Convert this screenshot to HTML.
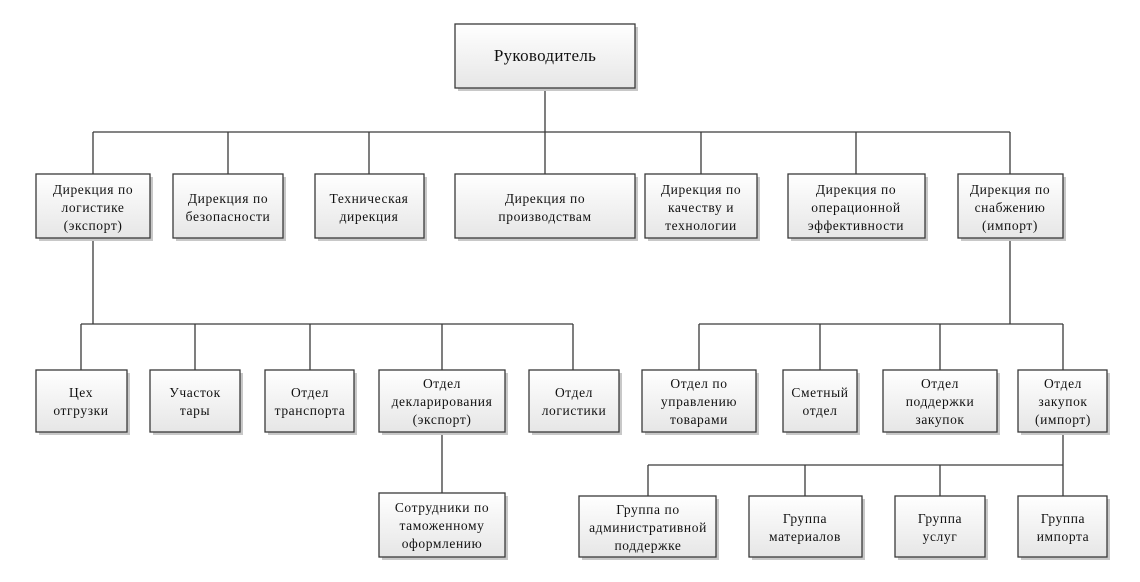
<!DOCTYPE html>
<html><head><meta charset="utf-8"><style>
html,body{margin:0;padding:0;background:#fff;}
svg{display:block;}
text{font-family:"Liberation Serif",serif;font-size:13.5px;fill:#111;text-anchor:middle;letter-spacing:0.6px;}
</style></head><body>
<svg width="1140" height="582" viewBox="0 0 1140 582" xmlns="http://www.w3.org/2000/svg">
<defs>
<linearGradient id="g" x1="0" y1="0" x2="0" y2="1">
<stop offset="0" stop-color="#ffffff"/><stop offset="1" stop-color="#e6e6e6"/>
</linearGradient>
</defs>
<g stroke="#3a3a3a" stroke-width="1.3" fill="none">
<path d="M545 88V132M93 132H1010M93 132V174M228 132V174M369 132V174M545 132V174M701 132V174M856 132V174M1010 132V174"/>
<path d="M93 238V324M81 324H573M81 324V370M195 324V370M310 324V370M442 324V370M573 324V370M442 432V493"/>
<path d="M1010 238V324M699 324H1063M699 324V370M820 324V370M940 324V370M1063 324V370"/>
<path d="M1063 432V465M648 465H1063M648 465V496M805 465V496M940 465V496M1063 465V496"/>
</g>
<g id="boxes">
<!-- shadow + box helper: drawn individually -->
</g>
<g fill="#c8c8c8">
<rect x="458" y="27" width="180" height="64"/>
<rect x="39" y="177" width="114" height="64"/><rect x="176" y="177" width="110" height="64"/><rect x="318" y="177" width="109" height="64"/><rect x="458" y="177" width="180" height="64"/><rect x="648" y="177" width="112" height="64"/><rect x="791" y="177" width="137" height="64"/><rect x="961" y="177" width="105" height="64"/>
<rect x="39" y="373" width="91" height="62"/><rect x="153" y="373" width="90" height="62"/><rect x="268" y="373" width="89" height="62"/><rect x="382" y="373" width="126" height="62"/><rect x="532" y="373" width="90" height="62"/>
<rect x="645" y="373" width="114" height="62"/><rect x="786" y="373" width="74" height="62"/><rect x="886" y="373" width="114" height="62"/><rect x="1021" y="373" width="89" height="62"/>
<rect x="382" y="496" width="126" height="64"/>
<rect x="582" y="499" width="137" height="61"/><rect x="752" y="499" width="113" height="61"/><rect x="898" y="499" width="90" height="61"/><rect x="1021" y="499" width="89" height="61"/>
</g>
<g fill="url(#g)" stroke="#3a3a3a" stroke-width="1.3">
<rect x="455" y="24" width="180" height="64"/>
<rect x="36" y="174" width="114" height="64"/><rect x="173" y="174" width="110" height="64"/><rect x="315" y="174" width="109" height="64"/><rect x="455" y="174" width="180" height="64"/><rect x="645" y="174" width="112" height="64"/><rect x="788" y="174" width="137" height="64"/><rect x="958" y="174" width="105" height="64"/>
<rect x="36" y="370" width="91" height="62"/><rect x="150" y="370" width="90" height="62"/><rect x="265" y="370" width="89" height="62"/><rect x="379" y="370" width="126" height="62"/><rect x="529" y="370" width="90" height="62"/>
<rect x="642" y="370" width="114" height="62"/><rect x="783" y="370" width="74" height="62"/><rect x="883" y="370" width="114" height="62"/><rect x="1018" y="370" width="89" height="62"/>
<rect x="379" y="493" width="126" height="64"/>
<rect x="579" y="496" width="137" height="61"/><rect x="749" y="496" width="113" height="61"/><rect x="895" y="496" width="90" height="61"/><rect x="1018" y="496" width="89" height="61"/>
</g>
<text x="545" y="61" style="font-size:17px;letter-spacing:0.3px">Руководитель</text>
<text x="93" y="194">Дирекция по</text><text x="93" y="212">логистике</text><text x="93" y="230">(экспорт)</text>
<text x="228" y="203">Дирекция по</text><text x="228" y="221">безопасности</text>
<text x="369" y="203">Техническая</text><text x="369" y="221">дирекция</text>
<text x="545" y="203">Дирекция по</text><text x="545" y="221">производствам</text>
<text x="701" y="194">Дирекция по</text><text x="701" y="212">качеству и</text><text x="701" y="230">технологии</text>
<text x="856" y="194">Дирекция по</text><text x="856" y="212">операционной</text><text x="856" y="230">эффективности</text>
<text x="1010" y="194">Дирекция по</text><text x="1010" y="212">снабжению</text><text x="1010" y="230">(импорт)</text>
<text x="81" y="397">Цех</text><text x="81" y="415">отгрузки</text>
<text x="195" y="397">Участок</text><text x="195" y="415">тары</text>
<text x="310" y="397">Отдел</text><text x="310" y="415">транспорта</text>
<text x="442" y="388">Отдел</text><text x="442" y="406">декларирования</text><text x="442" y="424">(экспорт)</text>
<text x="574" y="397">Отдел</text><text x="574" y="415">логистики</text>
<text x="699" y="388">Отдел по</text><text x="699" y="406">управлению</text><text x="699" y="424">товарами</text>
<text x="820" y="397">Сметный</text><text x="820" y="415">отдел</text>
<text x="940" y="388">Отдел</text><text x="940" y="406">поддержки</text><text x="940" y="424">закупок</text>
<text x="1063" y="388">Отдел</text><text x="1063" y="406">закупок</text><text x="1063" y="424">(импорт)</text>
<text x="442" y="512">Сотрудники по</text><text x="442" y="530">таможенному</text><text x="442" y="548">оформлению</text>
<text x="648" y="514">Группа по</text><text x="648" y="532">административной</text><text x="648" y="550">поддержке</text>
<text x="805" y="523">Группа</text><text x="805" y="541">материалов</text>
<text x="940" y="523">Группа</text><text x="940" y="541">услуг</text>
<text x="1063" y="523">Группа</text><text x="1063" y="541">импорта</text>
</svg>
</body></html>
